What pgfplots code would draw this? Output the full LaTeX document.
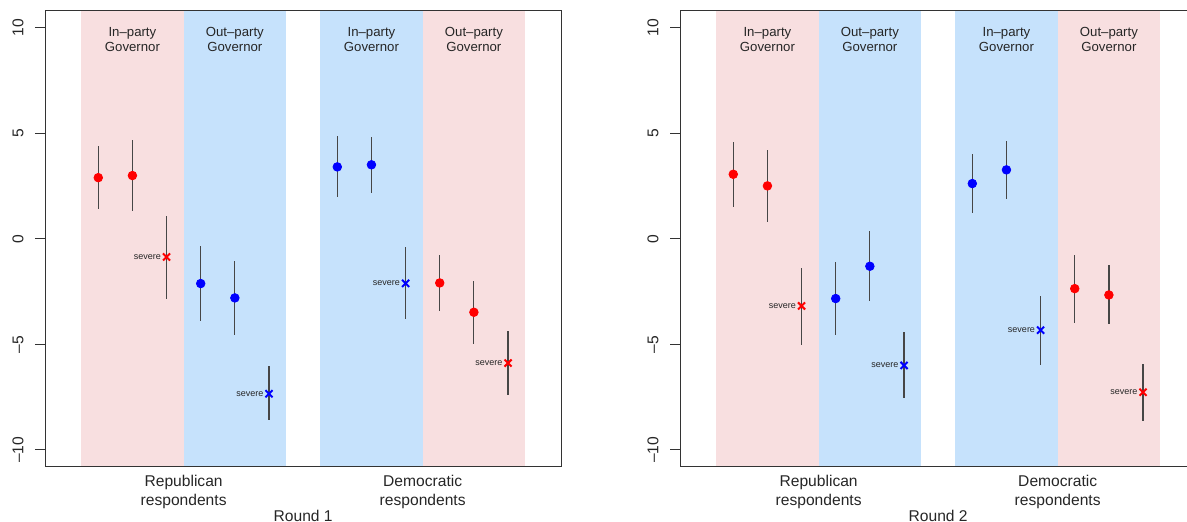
\documentclass[border=0pt]{standalone}
\usepackage{fontspec}
\setmainfont{Liberation Sans}
\usepackage{pgfplots}
\usepackage{pgfplotstable}
\pgfplotsset{compat=1.18}
\definecolor{pinkbg}{RGB}{248,223,224}
\definecolor{bluebg}{RGB}{198,226,252}
\definecolor{txt}{RGB}{38,38,38}
\definecolor{bar}{RGB}{70,70,70}

\pgfplotstableread{
x y lo hi c lab
1 2.90 1.41 4.40 rd {}
2 3.00 1.31 4.69 rd {}
3 -0.86 -2.83 1.06 rx severe
4 -2.12 -3.91 -0.33 bd {}
5 -2.80 -4.54 -1.04 bd {}
6 -7.34 -8.59 -6.04 bx severe
8 3.41 1.96 4.88 bd {}
9 3.51 2.17 4.85 bd {}
10 -2.11 -3.79 -0.41 bx severe
11 -2.09 -3.43 -0.75 rd {}
12 -3.48 -4.98 -1.98 rd {}
13 -5.89 -7.42 -4.38 rx severe
}\roundone

\pgfplotstableread{
x y lo hi c lab
1 3.06 1.53 4.58 rd {}
2 2.51 0.78 4.21 rd {}
3 -3.18 -5.01 -1.38 rx severe
4 -2.83 -4.58 -1.10 bd {}
5 -1.30 -2.96 0.35 bd {}
6 -6.00 -7.56 -4.43 bx severe
8 2.62 1.22 4.03 bd {}
9 3.27 1.90 4.64 bd {}
10 -4.33 -5.96 -2.71 bx severe
11 -2.36 -3.97 -0.77 rd {}
12 -2.66 -4.06 -1.26 rd {}
13 -7.27 -8.64 -5.92 rx severe
}\roundtwo

\pgfplotsset{
  panel/.style={
    scale only axis, width=258.15pt, height=227.85pt,
    anchor=south west,
    xmin=-0.56, xmax=14.56, ymin=-10.8, ymax=10.8,
    xtick=\empty, ytick={-10,-5,0,5,10},
    yticklabels={--10,--5,0,5,10},
    ytick pos=left,
    tick align=outside, major tick length=5pt,
    tick style={black!80, line width=0.5pt},
    axis line style={black!80, line width=0.5pt},
    yticklabel style={xshift=-5.5pt, rotate=90, anchor=south, inner sep=0pt,
      font=\fontsize{7.8}{9}\selectfont, text=txt},
    axis on top, clip mode=individual,
  },
  errs/.style={draw=none, mark=none, forget plot,
    error bars/.cd, y dir=both, y explicit, error mark=none,
    error bar style={draw=bar, line width=0.6pt}},
  pts/.style={scatter, only marks, scatter src=explicit symbolic,
    scatter/classes={
      rd={mark=*, red, mark size=2.15pt},
      bd={mark=*, blue, mark size=2.15pt},
      rx={mark=x, red, mark size=2.5pt, line width=1pt},
      bx={mark=x, blue, mark size=2.5pt, line width=1pt}}},
  labs/.style={draw=none, mark=none,
    point meta=explicit symbolic,
    nodes near coords,
    every node near coord/.append style={anchor=east, inner sep=0pt,
      xshift=-2.6pt, font=\fontsize{4.5}{5}\selectfont, text=txt}},
}
\tikzset{
  toplab/.style={align=center, anchor=north, inner sep=0pt,
    font=\fontsize{6.6}{7.5}\selectfont, text=txt, yshift=-7.85pt},
  botlab/.style={align=center, anchor=north, inner sep=0pt,
    font=\fontsize{7.8}{9.3}\selectfont, text=txt, yshift=-4.2pt},
  rndlab/.style={anchor=north, inner sep=0pt,
    font=\fontsize{7.8}{9.3}\selectfont, text=txt, yshift=-21.4pt},
}

\begin{document}
\begin{tikzpicture}
\useasboundingbox (0,0) rectangle (593.5pt,261pt);
\clip (0,0) rectangle (593.5pt,261pt);

\begin{axis}[panel, at={(22.5pt,27.65pt)}]
\addplot[fill=pinkbg, draw=none] coordinates {(0.5,-11) (3.5,-11) (3.5,11) (0.5,11)} -- cycle;
\addplot[fill=bluebg, draw=none] coordinates {(3.5,-11) (6.5,-11) (6.5,11) (3.5,11)} -- cycle;
\addplot[fill=bluebg, draw=none] coordinates {(7.5,-11) (10.5,-11) (10.5,11) (7.5,11)} -- cycle;
\addplot[fill=pinkbg, draw=none] coordinates {(10.5,-11) (13.5,-11) (13.5,11) (10.5,11)} -- cycle;
\addplot[errs] table[x=x, y=y, y error plus expr=\thisrow{hi}-\thisrow{y}, y error minus expr=\thisrow{y}-\thisrow{lo}] {\roundone};
\addplot[pts] table[x=x, y=y, meta=c] {\roundone};
\addplot[labs] table[x=x, y=y, meta=lab] {\roundone};
\node[toplab] at (axis cs:2,10.8) {In--party\\Governor};
\node[toplab] at (axis cs:5,10.8) {Out--party\\Governor};
\node[toplab] at (axis cs:9,10.8) {In--party\\Governor};
\node[toplab] at (axis cs:12,10.8) {Out--party\\Governor};
\node[botlab] at (axis cs:3.5,-10.8) {Republican\\respondents};
\node[botlab] at (axis cs:10.5,-10.8) {Democratic\\respondents};
\node[rndlab] at (axis cs:7,-10.8) {Round 1};
\end{axis}

\begin{axis}[panel, at={(340pt,27.65pt)}]
\addplot[fill=pinkbg, draw=none] coordinates {(0.5,-11) (3.5,-11) (3.5,11) (0.5,11)} -- cycle;
\addplot[fill=bluebg, draw=none] coordinates {(3.5,-11) (6.5,-11) (6.5,11) (3.5,11)} -- cycle;
\addplot[fill=bluebg, draw=none] coordinates {(7.5,-11) (10.5,-11) (10.5,11) (7.5,11)} -- cycle;
\addplot[fill=pinkbg, draw=none] coordinates {(10.5,-11) (13.5,-11) (13.5,11) (10.5,11)} -- cycle;
\addplot[errs] table[x=x, y=y, y error plus expr=\thisrow{hi}-\thisrow{y}, y error minus expr=\thisrow{y}-\thisrow{lo}] {\roundtwo};
\addplot[pts] table[x=x, y=y, meta=c] {\roundtwo};
\addplot[labs] table[x=x, y=y, meta=lab] {\roundtwo};
\node[toplab] at (axis cs:2,10.8) {In--party\\Governor};
\node[toplab] at (axis cs:5,10.8) {Out--party\\Governor};
\node[toplab] at (axis cs:9,10.8) {In--party\\Governor};
\node[toplab] at (axis cs:12,10.8) {Out--party\\Governor};
\node[botlab] at (axis cs:3.5,-10.8) {Republican\\respondents};
\node[botlab] at (axis cs:10.5,-10.8) {Democratic\\respondents};
\node[rndlab] at (axis cs:7,-10.8) {Round 2};
\end{axis}
\end{tikzpicture}
\end{document}
